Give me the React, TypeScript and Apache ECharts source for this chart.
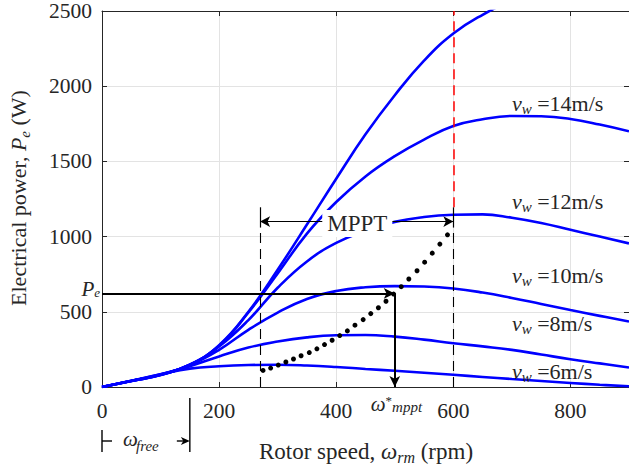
import { useEffect, useRef } from "react";
import * as echarts from "echarts";

// ---------- data ----------
const rotorSpeed = [0, 50, 100, 150, 200, 250, 300, 350, 400, 450, 500, 550, 600, 650, 700, 750, 800, 850, 900];
const windSpeeds = [6, 8, 10, 12, 14, 16];
const power6 = [0, 42, 85, 122, 138, 146, 148, 143, 133, 120, 108, 95, 81, 67, 53, 40, 27, 15, 5];
const power8 = [0, 41, 84, 138, 203, 262, 302, 330, 344, 346, 335, 315, 291, 270, 247, 216, 185, 157, 130];
const power10 = [0, 40, 82, 145, 247, 380, 495, 585, 638, 663, 671, 668, 655, 628, 592, 552, 512, 473, 435];
const power12 = [0, 40, 81, 148, 270, 445, 660, 835, 958, 1040, 1098, 1130, 1145, 1148, 1125, 1090, 1045, 1000, 955];
const power14 = [0, 40, 80, 148, 275, 495, 755, 1020, 1230, 1400, 1535, 1645, 1735, 1780, 1802, 1800, 1782, 1745, 1700];
const power16 = [0, 40, 80, 148, 278, 500, 780, 1080, 1385, 1680, 1940, 2170, 2350, 2475, 2570, 2640];
const powerCurves = [power6, power8, power10, power12, power14, power16];

// MPPT trajectory (dotted)
const mpptSpeed = [275, 288, 301, 314, 327, 340, 354, 367, 380, 393, 406, 419, 432, 446, 459, 472, 485, 498, 511, 524, 538, 551, 564, 577, 590];
const mpptPower = [110, 126, 146, 166, 186, 208, 229, 254, 282, 311, 342, 373, 411, 448, 488, 527, 570, 618, 667, 718, 773, 830, 890, 950, 1012];

// curve labels (v_w = 6..14 m/s): anchor rotor speed and power
const labelSpeeds = [6, 8, 10, 12, 14];
const labelAnchorRpm = 700;
const labelAnchorPower = [101, 419, 743, 1235, 1884];

// annotations
const peLevel = 622;
const wMpptStar = 500;
const mpptBounds = [270, 600];
const mpptArrowLevel = 1100;
const mpptTextRpm = 436;
const capBar = [1060, 1195];
const wFree = 150;

// axes
const xMin = 0, xMax = 900, xStep = 200;
const yMin = 0, yMax = 2500, yStep = 500;

const SERIF = "Liberation Serif, DejaVu Serif, serif";
const INK = "#262626";

function tok(size: number, extra: any = {}) {
  return { fontFamily: SERIF, fontSize: size, fill: INK, color: INK, ...extra };
}

export default function App() {
  const ref = useRef<HTMLDivElement>(null);

  useEffect(() => {
    if (!ref.current) return;
    const chart = echarts.init(ref.current, null, { renderer: "svg" });

    const axisCommon = {
      type: "value",
      axisLine: { show: true, onZero: false, lineStyle: { color: INK, width: 1 } },
      axisTick: { show: true, inside: true, length: 5, lineStyle: { color: INK, width: 1 } },
    };

    const curveSeries = powerCurves.map((arr, k) => ({
      type: "line",
      name: `${windSpeeds[k]} m/s`,
      data: arr.map((p, i) => [rotorSpeed[i], p]),
      showSymbol: false,
      symbol: "none",
      smooth: 0.45,
      clip: true,
      lineStyle: { color: "#0000ff", width: 2.6 },
      z: 2,
      silent: true,
    }));

    const black = { color: "#000", width: 1.2, type: "solid" };
    const dashed = { color: "#000", width: 1.1, type: [10, 6] };
    const markData: any[] = [
      [
        { coord: [xMin, peLevel], symbol: "none", lineStyle: { color: "#000", width: 2, type: "solid" } },
        { coord: [wMpptStar, peLevel], symbol: "arrow", symbolSize: [8, 11] },
      ],
      [
        { coord: [wMpptStar, peLevel], symbol: "none", lineStyle: { color: "#000", width: 2, type: "solid" } },
        { coord: [wMpptStar, yMin], symbol: "arrow", symbolSize: [8, 11] },
      ],
      [
        { coord: [mpptBounds[0], mpptArrowLevel], symbol: "arrow", symbolSize: [8, 10], lineStyle: black },
        { coord: [mpptBounds[1], mpptArrowLevel], symbol: "arrow", symbolSize: [8, 10] },
      ],
      [
        { coord: [mpptBounds[0], capBar[0]], symbol: "none", lineStyle: black },
        { coord: [mpptBounds[0], capBar[1]], symbol: "none" },
      ],
      [
        { coord: [mpptBounds[1], capBar[0]], symbol: "none", lineStyle: black },
        { coord: [mpptBounds[1], capBar[1]], symbol: "none" },
      ],
      [
        { coord: [mpptBounds[0], yMin], symbol: "none", lineStyle: dashed },
        { coord: [mpptBounds[0], capBar[0]], symbol: "none" },
      ],
      [
        { coord: [mpptBounds[1], yMin], symbol: "none", lineStyle: dashed },
        { coord: [mpptBounds[1], capBar[0]], symbol: "none" },
      ],
      [
        { coord: [mpptBounds[1], capBar[1]], symbol: "none", lineStyle: { color: "#ff0000", width: 1.5, type: [10, 6] } },
        { coord: [mpptBounds[1], yMax], symbol: "none" },
      ],
    ];

    const plain = (v: number) => String(v);

    const option: any = {
      animation: false,
      backgroundColor: "#fff",
      textStyle: { fontFamily: SERIF },
      grid: { left: 102, top: 10, width: 529, height: 377 },
      xAxis: [
        {
          ...axisCommon,
          position: "bottom",
          min: xMin,
          max: xMax,
          interval: xStep,
          axisLabel: { show: true, fontFamily: SERIF, fontSize: 21.5, color: INK, margin: 13, showMaxLabel: false, formatter: plain },
          splitLine: { show: true, lineStyle: { color: "#e3e3e3", width: 1 } },
        },
        {
          ...axisCommon,
          position: "top",
          min: xMin,
          max: xMax,
          interval: xStep,
          axisLabel: { show: false },
          splitLine: { show: false },
        },
      ],
      yAxis: [
        {
          ...axisCommon,
          position: "left",
          min: yMin,
          max: yMax,
          interval: yStep,
          axisLabel: { show: true, fontFamily: SERIF, fontSize: 21.5, color: INK, margin: 10, formatter: plain },
          splitLine: { show: true, lineStyle: { color: "#e3e3e3", width: 1 } },
        },
        {
          ...axisCommon,
          position: "right",
          min: yMin,
          max: yMax,
          interval: yStep,
          axisLabel: { show: false },
          splitLine: { show: false },
        },
      ],
      series: [
        ...curveSeries,
        {
          type: "scatter",
          name: "MPPT",
          data: mpptSpeed.map((w, i) => [w, mpptPower[i]]),
          symbol: "circle",
          symbolSize: 5,
          itemStyle: { color: "#000", opacity: 1 },
          z: 4,
          silent: true,
          markLine: {
            silent: true,
            animation: false,
            label: { show: false },
            emphasis: { disabled: true },
            lineStyle: { color: "#000", width: 1.2, type: "solid" },
            data: markData,
          },
        },
      ],
    };

    chart.setOption(option);

    const toPx = (x: number, y: number) => chart.convertToPixel({ seriesIndex: 0 }, [x, y]) as number[];

    const graphics: any[] = [];
    const txt = (x: number, y: number, style: any, extra: any = {}) => {
      const st = { fill: INK, ...style };
      if (st.align) st.textAlign = st.align;
      if (st.verticalAlign) st.textVerticalAlign = st.verticalAlign;
      graphics.push({ type: "text", x, y, z: 100, silent: true, style: st, ...extra });
    };

    // curve labels
    labelSpeeds.forEach((s, i) => {
      const [px, py] = toPx(labelAnchorRpm, labelAnchorPower[i]);
      txt(px, py, {
        text: `{i|v}{s|w}{n| =${s}m/s}`,
        align: "left",
        verticalAlign: "middle",
        rich: {
          i: tok(22, { fontStyle: "italic", lineHeight: 26 }),
          s: tok(15, { fontStyle: "italic", lineHeight: 15, verticalAlign: "bottom" }),
          n: tok(22, { lineHeight: 26 }),
        },
      });
    });

    // MPPT box label
    {
      const [px, py] = toPx(mpptTextRpm, mpptArrowLevel);
      txt(px, py + 2, {
        text: "MPPT",
        fontFamily: SERIF,
        fontSize: 23,
        lineHeight: 23,
        align: "center",
        verticalAlign: "middle",
        backgroundColor: "#ffffff",
        padding: [2, 5, 2, 5],
      });
    }

    // P_e label left of axis
    {
      const [px, py] = toPx(xMin, peLevel);
      txt(px - 2, py - 4, {
        text: "{i|P}{s|e}",
        align: "right",
        verticalAlign: "middle",
        rich: {
          i: tok(21, { fontStyle: "italic", lineHeight: 19 }),
          s: tok(13, { fontStyle: "italic", lineHeight: 13, verticalAlign: "bottom" }),
        },
      });
    }

    // omega*_mppt label (one rich text: omega, superscript star, subscript mppt)
    {
      const [ax, ay] = toPx(wMpptStar, yMin);
      txt(ax - 24, ay + 17, {
        text: "{i|ω}{p|*}{s|mppt}",
        align: "left",
        verticalAlign: "middle",
        rich: {
          i: tok(21, { fontStyle: "italic", lineHeight: 20 }),
          p: tok(13, { lineHeight: 9, verticalAlign: "top" }),
          s: tok(15, { fontStyle: "italic", lineHeight: 11, verticalAlign: "bottom" }),
        },
      });
    }

    // omega_free bracket
    {
      const [x0] = toPx(xMin, yMin);
      const [x1] = toPx(wFree, yMin);
      const yl = 441;
      const ln = (xa: number, ya: number, xb: number, yb: number, w = 1.4) =>
        graphics.push({ type: "line", z: 100, silent: true, shape: { x1: xa, y1: ya, x2: xb, y2: yb }, style: { stroke: "#000", lineWidth: w } });
      ln(x0, 430, x0, 452);
      ln(x0, yl, x0 + 10, yl);
      ln(x1 - 13, yl, x1 - 4, yl);
      ln(x1, 398, x1, 452);
      graphics.push({
        type: "polygon",
        z: 100,
        silent: true,
        shape: { points: [[x1, yl], [x1 - 9, yl - 4], [x1 - 6.5, yl], [x1 - 9, yl + 4]] },
        style: { fill: "#000" },
      });
      txt(x0 + 21, yl - 2, { text: "ω", fontFamily: SERIF, fontSize: 21, lineHeight: 16, fontStyle: "italic", align: "left", verticalAlign: "middle" });
      txt(x0 + 34, yl + 5, { text: "free", fontFamily: SERIF, fontSize: 15, lineHeight: 12, fontStyle: "italic", align: "left", verticalAlign: "middle" });
    }

    // axis names
    txt(366, 451, {
      text: "{n|Rotor speed, }{i|ω}{s|rm}{n| (rpm)}",
      align: "center",
      verticalAlign: "middle",
      rich: {
        n: tok(23, { lineHeight: 28 }),
        i: tok(23, { fontStyle: "italic", lineHeight: 28 }),
        s: tok(16, { fontStyle: "italic", lineHeight: 16, verticalAlign: "bottom" }),
      },
    });
    txt(18, 198, {
      text: "{n|Electrical power, }{i|P}{s|e}{n| (W)}",
      align: "center",
      verticalAlign: "middle",
      rich: {
        n: tok(22, { lineHeight: 28 }),
        i: tok(22, { fontStyle: "italic", lineHeight: 28 }),
        s: tok(15, { fontStyle: "italic", lineHeight: 15, verticalAlign: "bottom" }),
      },
    }, { rotation: Math.PI / 2 });

    chart.setOption({ graphic: graphics });

    return () => chart.dispose();
  }, []);

  return (
    <div
      ref={ref}
      style={{ position: "fixed", left: 0, top: 0, width: 629, height: 473, background: "#fff" }}
    />
  );
}
